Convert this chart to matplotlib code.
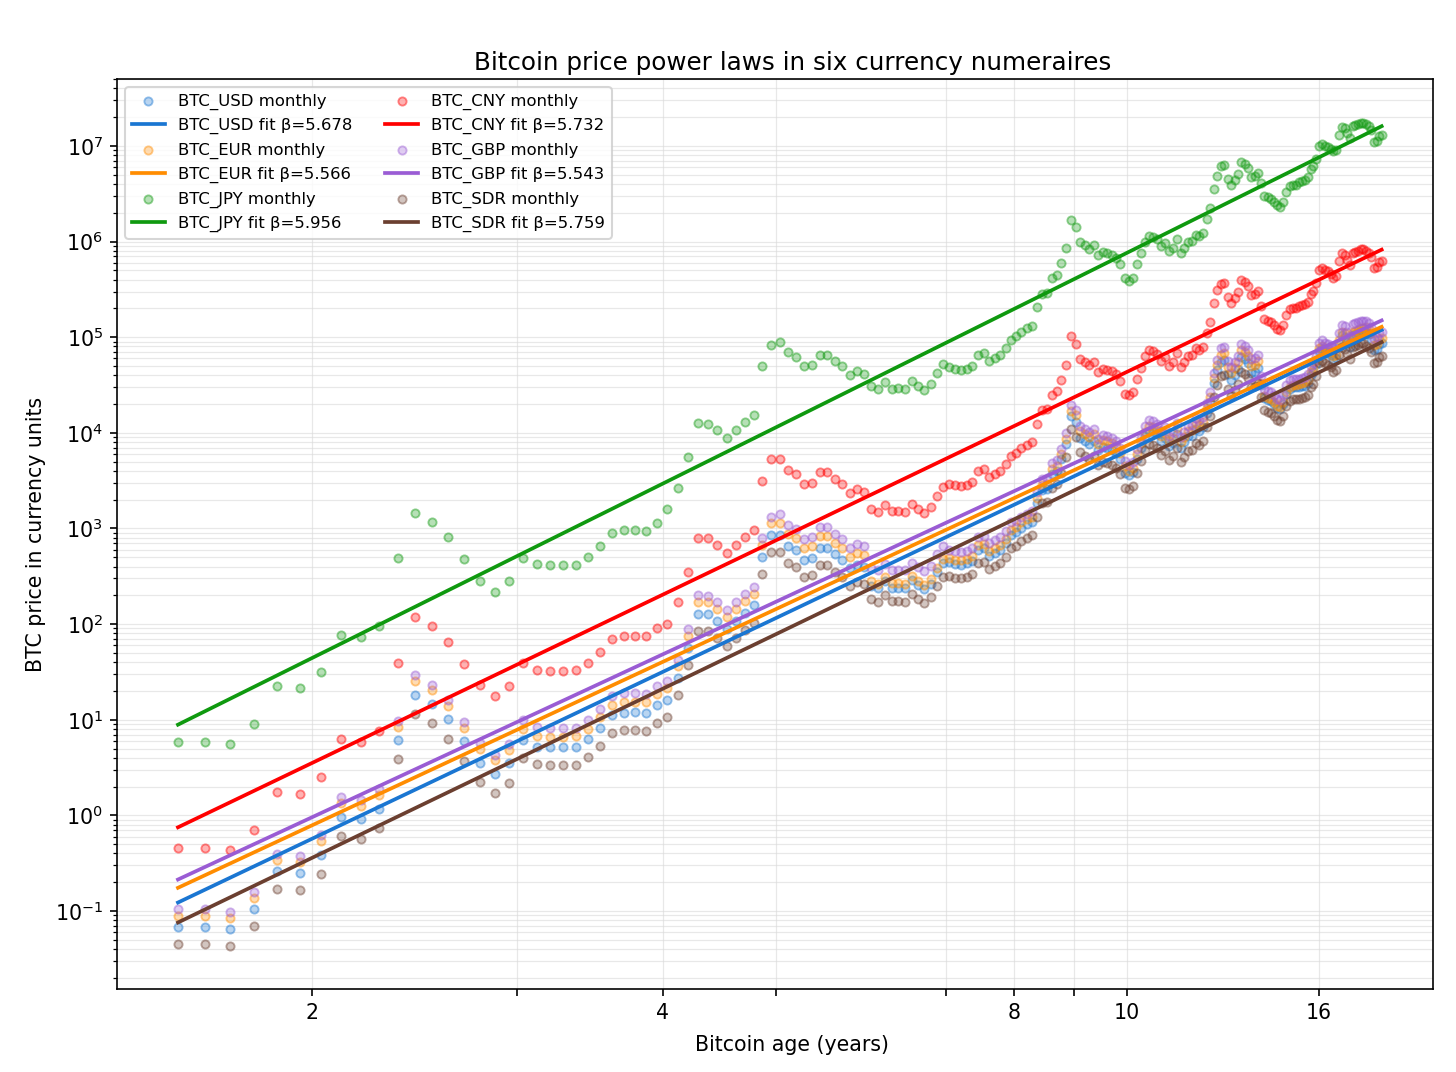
import numpy as np
import matplotlib.pyplot as plt
from matplotlib.colors import to_rgba
from matplotlib.ticker import NullLocator

# bitcoin age (years since genesis) of the first monthly point, then one point per month
first_age = 1.535

# BTC price in USD, one value per month
usd_monthly = [
    0.0686, 0.0686, 0.065, 0.105, 0.26, 0.25, 0.39, 0.97, 0.91, 1.18, 6.1, 18.2,
    14.6, 10.1, 5.95, 3.55, 2.7, 3.5, 6.2, 5.25, 5.15, 5.15, 5.2, 6.27,
    8.2, 11.1, 11.9, 12.0, 11.8, 14.3, 16.2, 27.2, 56.5, 128, 127, 108,
    89, 109, 131, 157, 504, 853, 856, 660, 595, 470, 490, 625,
    625, 535, 470, 382, 417, 394, 252, 238, 279, 240, 241, 238,
    286, 257, 233, 265, 351, 432, 443, 426, 419, 431, 461, 601,
    625, 519, 558, 601, 705, 860, 920, 1023, 1107, 1179, 1848, 2545,
    2607, 3705, 4018, 5268, 7670, 15090, 12900, 8900, 8270, 7640, 8270, 6545,
    7090, 6900, 6640, 6180, 5270, 3820, 3580, 3850, 5320, 6970, 9170, 10550,
    10280, 9630, 8170, 8900, 7250, 7890, 9810, 7010, 7940, 9160, 9350, 11030,
    10560, 11500, 16070, 20930, 33100, 44900, 55500, 57300, 40900, 35500, 40000, 46400,
    61800, 59100, 53600, 42700, 43600, 47300, 31300, 22900, 22100, 21400, 19800, 18300,
    17600, 19800, 25200, 29000, 29800, 29800, 29800, 30500, 31200, 33300, 40400, 43300,
    51800, 70900, 74500, 70900, 68800, 65200, 58300, 60300, 86100, 104600, 101300, 89400,
    79500, 106000, 108600, 111300, 115900, 115900, 112000, 106700, 96700, 73300, 75300, 84700,
    86700,
]

# yearly multipliers applied to the USD price, 2010 .. 2025
fx_first_year = 2010
eur_rate = [1.30, 1.39, 1.29, 1.33, 1.33, 1.11, 1.11, 1.13, 1.18, 1.12, 1.14, 1.18, 1.05, 1.08, 1.08, 1.13]
jpy_rate = [86, 80, 80, 98, 105, 121, 109, 112, 110, 109, 107, 110, 131, 141, 151, 150]
cny_rate = [6.70, 6.50, 6.30, 6.20, 6.16, 6.28, 6.64, 6.75, 6.62, 6.91, 6.90, 6.45, 6.73, 7.08, 7.19, 7.18]
gbp_rate = [1.52, 1.60, 1.59, 1.56, 1.65, 1.53, 1.35, 1.29, 1.33, 1.28, 1.28, 1.38, 1.24, 1.24, 1.28, 1.32]
sdr_rate = [0.66, 0.63, 0.65, 0.66, 0.66, 0.72, 0.72, 0.72, 0.70, 0.72, 0.71, 0.70, 0.75, 0.75, 0.75, 0.73]

currencies = ["USD", "EUR", "JPY", "CNY", "GBP", "SDR"]
betas = [5.678, 5.566, 5.956, 5.732, 5.543, 5.759]

rates = {
    "USD": [1.0] * len(eur_rate),
    "EUR": eur_rate,
    "JPY": jpy_rate,
    "CNY": cny_rate,
    "GBP": gbp_rate,
    "SDR": sdr_rate,
}
colors = {
    "USD": "#1a76d2",
    "EUR": "#ff8c00",
    "JPY": "#0f990f",
    "CNY": "#ff0000",
    "GBP": "#9a5cd4",
    "SDR": "#6b3f30",
}

# x tick positions as drawn in the reference (the "16" label sits left of 16)
tick_pos = [2, 3, 4, 5, 7, 8, 9, 10, 14.6]
tick_lab = ["2", "", "4", "", "", "8", "", "10", "16"]


def main():
    usd = np.array(usd_monthly)
    ages = first_age + np.arange(len(usd)) / 12.0
    year_idx = (2009 + ages).astype(int) - fx_first_year

    fig, ax = plt.subplots(figsize=(1456 / 148, 1072 / 148), dpi=148)
    fig.subplots_adjust(left=0.0804, right=0.9842, top=0.9263, bottom=0.0774)

    for cur, beta in zip(currencies, betas):
        col = colors[cur]
        price = usd * np.array(rates[cur])[year_idx]
        # light fill with a slightly stronger ring, like the reference markers
        ax.scatter(ages, price, s=16, facecolors=[to_rgba(col, 0.3)],
                   edgecolors=[to_rgba(col, 0.45)], linewidths=0.9,
                   label=f"BTC_{cur} monthly", zorder=2)
        slope, icpt = np.polyfit(np.log10(ages), np.log10(price), 1)
        ax.plot(ages, 10 ** (icpt + slope * np.log10(ages)), color=col, lw=1.8,
                label=f"BTC_{cur} fit \u03b2={beta:.3f}", zorder=3)

    ax.set_xscale("log")
    ax.set_yscale("log")
    ax.set_xlim(1.361, 18.30)
    ax.set_ylim(0.0153, 5.0e7)
    ax.set_xticks(tick_pos)
    ax.set_xticklabels(tick_lab)
    ax.xaxis.set_minor_locator(NullLocator())

    ax.grid(True, which="both", color="#d9d9d9", lw=0.6, alpha=0.6)
    ax.set_axisbelow(True)

    ax.set_title("Bitcoin price power laws in six currency numeraires", x=0.513, pad=4.5)
    ax.set_xlabel("Bitcoin age (years)")
    ax.xaxis.set_label_coords(0.513, -0.0505)
    ax.set_ylabel("BTC price in currency units")
    ax.legend(loc="upper left", ncol=2, fontsize=8)

    fig.savefig("out.png", dpi=148)


if __name__ == "__main__":
    main()
